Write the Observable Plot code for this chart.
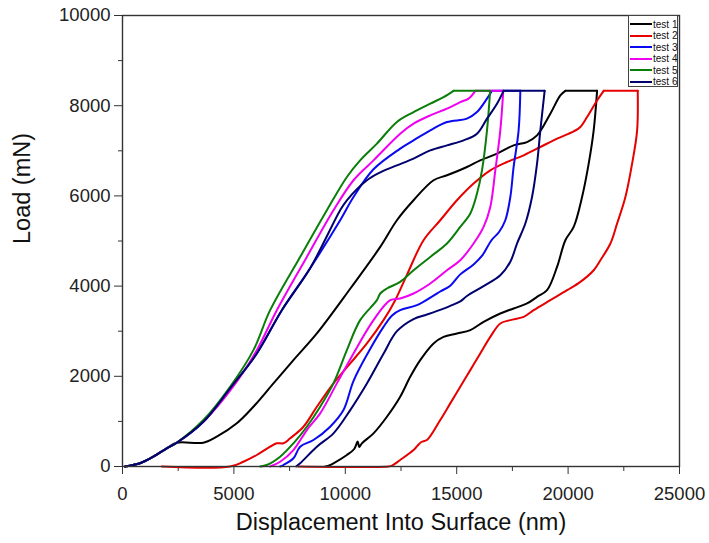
<!DOCTYPE html>
<html>
<head>
<meta charset="utf-8">
<script src="https://cdn.jsdelivr.net/npm/d3@7"></script>
<script src="https://cdn.jsdelivr.net/npm/@observablehq/plot@0.6"></script>
<style>
  body { margin: 0; background: #fff; }
  #wrap { position: relative; width: 709px; height: 543px; font-family: "Liberation Sans", Arial, sans-serif; }
  #legend { position: absolute; left: 628px; top: 15px; width: 50px; height: 72px; border: 1px solid #444; background: #fff; box-sizing: border-box; }
  .row { position: absolute; left: 0; height: 11px; width: 50px; }
  .sw { position: absolute; left: 1px; top: 4.5px; width: 22px; height: 2px; }
  .lb { position: absolute; left: 24px; top: 0; font-size: 10px; line-height: 11px; color: #111; white-space: nowrap; }
</style>
</head>
<body>
<div id="wrap"><div id="chart"></div><div id="legend"></div></div>
<script>
const tests = ["test 1", "test 2", "test 3", "test 4", "test 5", "test 6"];
const colors = ["#000000", "#e60000", "#0a0af0", "#f000f0", "#0a7d0a", "#00006e"];

const xMajorTicks = [0, 5000, 10000, 15000, 20000, 25000];
const xMinorTicks = [2500, 7500, 12500, 17500, 22500];
const yMajorTicks = [0, 2000, 4000, 6000, 8000, 10000];
const yMinorTicks = [1000, 3000, 5000, 7000, 9000];
const maxLoad = 8330;

// test 1 (black)
const test1X = [112, 786, 1384, 1985, 2435, 3630, 4231, 5130, 5876, 6774, 7672, 8723, 10228, 11568, 12317, 13063, 13961, 14563, 15460, 16057, 16809, 17555, 18156, 18606, 19202, 19652, 19877, 21301,
  21148, 20924, 20627, 20250, 19877, 19504, 19055, 18606, 18156, 17555, 16957, 16207, 15610, 15012, 14410, 13961, 13363, 12914, 12464, 11868, 11266, 10745, 10624, 10557, 10400, 10071, 9469, 9244, 9096];
const test1Y = [0, 71, 217, 403, 527, 527, 660, 957, 1325, 1843, 2359, 2950, 3947, 4869, 5460, 5903, 6347, 6457, 6641, 6788, 6937, 7121, 7194, 7343, 7823, 8229, 8330, 8330,
  7453, 6716, 5976, 5312, 5017, 4426, 3909, 3761, 3615, 3504, 3393, 3207, 3023, 2950, 2875, 2729, 2359, 1989, 1546, 1103, 735, 514, 432, 554, 388, 255, 71, 18, 0];

// test 2 (red)
const test2X = [1761, 4829, 5426, 6028, 6626, 6927, 7223, 7524, 8122, 8723, 9469, 10221, 10970, 11715, 12241, 12766, 13512, 14262, 15012, 15758, 16508, 17258, 18005, 18754, 19504, 20250, 20550, 20851, 21301, 21597, 23125,
  23098, 22873, 22572, 22199, 21899, 21449, 21148, 20550, 19953, 19202, 18453, 18005, 17407, 16957, 16508, 16057, 15610, 15160, 14712, 14262, 13665, 13409, 13229, 13063, 12464, 12092, 11926, 7884];
const test2Y = [0, 0, 106, 255, 439, 514, 514, 625, 882, 1325, 1843, 2286, 2729, 3245, 3688, 4250, 5017, 5460, 5903, 6273, 6567, 6751, 6900, 7084, 7270, 7431, 7527, 7748, 8117, 8330, 8330,
  7453, 6716, 5976, 5387, 4944, 4574, 4352, 4093, 3909, 3688, 3466, 3318, 3245, 3172, 2875, 2507, 2137, 1768, 1400, 1030, 587, 543, 454, 365, 144, 18, 0, 0];

// test 3 (blue)
const test3X = [112, 786, 1384, 1985, 2435, 3630, 4830, 6028, 7151, 8422, 9770, 10368, 11266, 12464, 13063, 13813, 14563, 15460, 15911, 16360, 16584, 17856,
  17779, 17555, 17407, 17182, 16900, 16560, 16150, 15758, 15160, 14712, 14262, 13961, 13215, 12464, 12100, 11715, 11040, 10370, 9918, 9321, 8571, 7973, 7672, 7223, 7075];
const test3Y = [0, 71, 217, 403, 527, 992, 1732, 2507, 3466, 4397, 5460, 5976, 6590, 7048, 7232, 7453, 7637, 7713, 7859, 8156, 8330, 8330,
  7453, 6641, 5976, 5460, 5200, 5017, 4680, 4480, 4260, 4010, 3880, 3790, 3577, 3466, 3350, 3097, 2540, 1900, 1251, 882, 587, 439, 182, 33, 0];

// test 4 (magenta)
const test4X = [112, 786, 1384, 1985, 2435, 3700, 4964, 6028, 6927, 8274, 9469, 10368, 11266, 12464, 13063, 13813, 14563, 15160, 15533, 15835, 17090,
  16957, 16733, 16508, 16207, 15758, 15160, 14563, 13813, 13063, 12464, 12015, 11266, 10368, 9622, 8872, 8274, 7672, 7075, 6626];
const test4Y = [0, 71, 217, 403, 527, 1030, 1768, 2580, 3466, 4647, 5682, 6347, 6788, 7379, 7602, 7786, 7934, 8080, 8156, 8330, 8330,
  7453, 6567, 5755, 5312, 4944, 4574, 4352, 4058, 3836, 3726, 3688, 3245, 2507, 1843, 1178, 808, 365, 106, 0];

// test 5 (green)
const test5X = [112, 786, 1384, 1985, 2435, 3630, 4829, 5876, 6626, 7973, 9173, 10071, 10666, 11419, 12317, 13063, 13813, 14410, 14860, 16500,
  16360, 16135, 15911, 15610, 15160, 14563, 13813, 13063, 12464, 11868, 11568, 11419, 10666, 10071, 9469, 8872, 8274, 7672, 7075, 6477, 6177];
const test5Y = [0, 71, 217, 403, 527, 1030, 1768, 2580, 3466, 4647, 5682, 6419, 6788, 7159, 7640, 7859, 8045, 8191, 8330, 8330,
  7453, 6567, 6051, 5608, 5312, 4944, 4647, 4352, 4093, 3947, 3836, 3688, 3245, 2580, 1843, 1325, 882, 514, 217, 33, 0];

// test 6 (navy)
const test6X = [112, 786, 1384, 1985, 2435, 3630, 4830, 6028, 7151, 8422, 9770, 10071, 10970, 11568, 12317, 13063, 13813, 14563, 15309, 15911, 16360, 16809, 17105, 18947,
  18754, 18606, 18381, 18080, 17707, 17407, 16957, 16207, 15460, 15160, 14712, 14410, 13665, 13063, 12317, 11715, 10970, 10221, 9469, 8723, 7973, 7794];
const test6Y = [0, 71, 217, 403, 527, 992, 1732, 2507, 3466, 4397, 5682, 5903, 6347, 6523, 6678, 6827, 7010, 7121, 7232, 7380, 7713, 8045, 8330, 8330,
  7453, 6716, 5976, 5387, 4944, 4540, 4240, 4000, 3780, 3660, 3560, 3500, 3370, 3270, 3000, 2500, 1840, 1250, 735, 439, 71, 0];

const seriesX = [test1X, test2X, test3X, test4X, test5X, test6X];
const seriesY = [test1Y, test2Y, test3Y, test4Y, test5Y, test6Y];

// split each test into loading / hold / unloading parts so the hold stays straight
const rows = [];
tests.forEach((name, i) => {
  const xs = seriesX[i], ys = seriesY[i];
  const i1 = ys.indexOf(maxLoad), i2 = ys.lastIndexOf(maxLoad);
  const push = (from, to, part) => {
    for (let j = from; j <= to; j++) rows.push({test: name, seg: name + part, x: xs[j], y: ys[j]});
  };
  push(0, i1, "-load");
  push(i1, i2, "-hold");
  push(i2, xs.length - 1, "-unload");
});

const chart = Plot.plot({
  width: 709,
  height: 543,
  marginLeft: 122,
  marginRight: 30,
  marginTop: 15,
  marginBottom: 77,
  style: {fontFamily: "'Liberation Sans', Arial, sans-serif", background: "#fff", color: "#222"},
  x: {domain: [0, 25000]},
  y: {domain: [0, 10000]},
  color: {domain: tests, range: colors},
  marks: [
    Plot.axisX({ticks: xMinorTicks, tickSize: 5, tickFormat: () => "", label: null, stroke: "#333"}),
    Plot.axisX({ticks: xMajorTicks, tickSize: 8, tickPadding: 12, tickFormat: d => String(d), fontSize: 18.5, label: null, stroke: "#333"}),
    Plot.axisY({ticks: yMinorTicks, tickSize: 4, tickFormat: () => "", label: null, stroke: "#333"}),
    Plot.axisY({ticks: yMajorTicks, tickSize: 8, tickPadding: 4, tickFormat: d => String(d), fontSize: 18.5, label: null, stroke: "#333"}),
    Plot.line(rows, {x: "x", y: "y", z: "seg", stroke: "test", strokeWidth: 2, strokeLinejoin: "round", strokeLinecap: "round", curve: "catmull-rom"}),
    Plot.frame({stroke: "#333", strokeWidth: 1.4}),
    Plot.text(["Displacement Into Surface (nm)"], {text: d => d, frameAnchor: "bottom", dy: 63, fontSize: 23.5, fill: "#111"}),
    Plot.text(["Load (mN)"], {text: d => d, frameAnchor: "left", dx: -100, dy: 3, rotate: -90, fontSize: 23.5, fill: "#111"})
  ]
});
document.getElementById("chart").appendChild(chart);

const legend = document.getElementById("legend");
tests.forEach((name, i) => {
  const row = document.createElement("div");
  row.className = "row";
  row.style.top = (2.5 + i * 11.5) + "px";
  const sw = document.createElement("div");
  sw.className = "sw";
  sw.style.background = colors[i];
  const lb = document.createElement("div");
  lb.className = "lb";
  lb.textContent = name;
  row.appendChild(sw);
  row.appendChild(lb);
  legend.appendChild(row);
});
</script>
</body>
</html>
